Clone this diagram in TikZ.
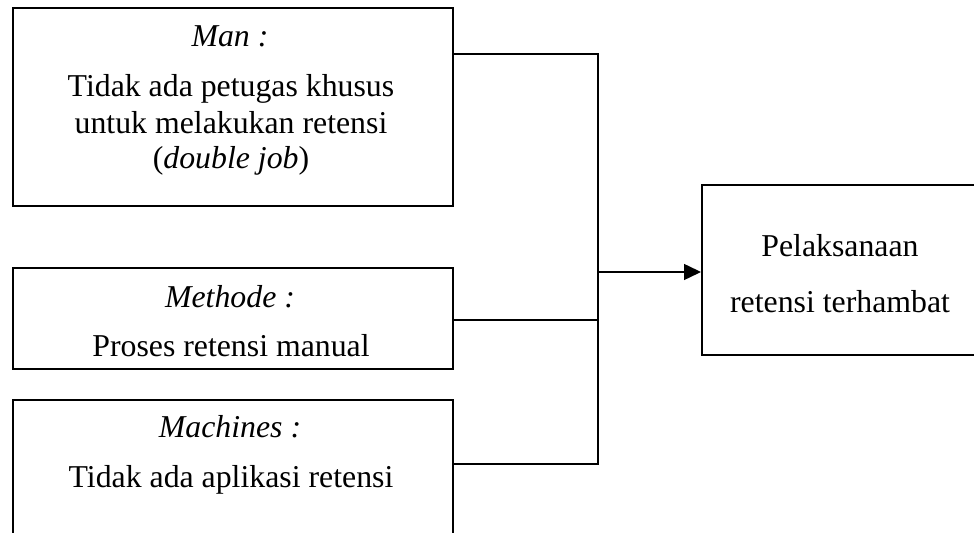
\documentclass[tikz,border=0pt]{standalone}
\usepackage{fontspec}
\setmainfont{Liberation Serif}
\usetikzlibrary{arrows.meta}
\begin{document}
\begin{tikzpicture}[x=0.5pt,y=-0.5pt,
  boxstyle/.style={draw=black,line width=0.9pt,rectangle,inner sep=0pt,anchor=north west},
  txt/.style={anchor=base,inner sep=0pt,font=\fontsize{15.9}{18}\selectfont},
  conn/.style={draw=black,line width=0.75pt},
  arr/.style={conn,-{Triangle[length=8.5pt,width=8pt]}}]
\clip (0,0) rectangle (974,533);
\useasboundingbox (0,0) rectangle (974,533);
% boxes
\node[boxstyle,minimum width=220pt,minimum height=99pt] (man) at (12,7) {};
\node[boxstyle,minimum width=220pt,minimum height=50.5pt] (met) at (12,267) {};
\node[boxstyle,minimum width=220pt,minimum height=80pt] (mac) at (12,399) {};
\node[boxstyle,minimum width=139pt,minimum height=85pt] (res) at (701,184) {};
% texts
\node[txt] (t1) at (230,47) {\textit{Man :}};
\node[txt] (t2) at (231,97) {Tidak ada petugas khusus};
\node[txt] (t3) at (231,134) {untuk melakukan retensi};
\node[txt] (t4) at (231,169) {(\textit{double job})};
\node[txt] (t5) at (230,308) {\textit{Methode :}};
\node[txt] (t6) at (231,357) {Proses retensi manual};
\node[txt] (t7) at (230,438) {\textit{Machines :}};
\node[txt] (t8) at (231,488) {Tidak ada aplikasi retensi};
\node[txt] (t9) at (840,257) {Pelaksanaan};
\node[txt] (t10) at (840,313) {retensi terhambat};
% connectors
\coordinate (j1) at (598,54);
\coordinate (j2) at (598,320);
\coordinate (j3) at (598,464);
\coordinate (ja) at (598,272);
\draw[conn] (man.east |- j1) -- (j1) -- (j3) -- (mac.east |- j3);
\draw[conn] (met.east |- j2) -- (j2);
\draw[arr] (ja) -- (res.west |- ja);
\end{tikzpicture}
\end{document}
